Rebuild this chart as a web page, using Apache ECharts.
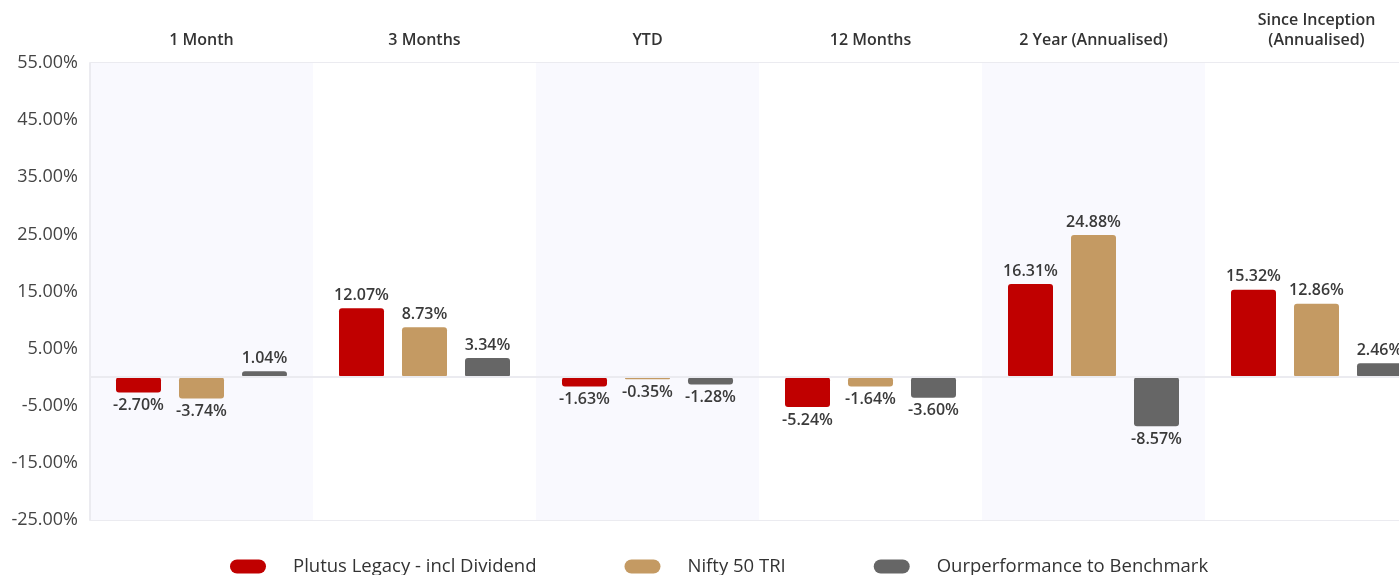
<!DOCTYPE html>
<html>
<head>
<meta charset="utf-8">
<script src="https://cdn.jsdelivr.net/npm/echarts@6/dist/echarts.min.js"></script>
<style>
    html, body { margin: 0; padding: 0; background: #fff; }
    #chart { width: 1399px; height: 575px; }
</style>
</head>
<body>
<div id="chart"></div>
<script>
// periods shown along the top
const periods = ['1 Month', '3 Months', 'YTD', '12 Months', '2 Year (Annualised)', 'Since Inception\n(Annualised)'];

// returns in %
const plutusLegacy = [-2.70, 12.07, -1.63, -5.24, 16.31, 15.32];
const nifty50Tri = [-3.74, 8.73, -0.35, -1.64, 24.88, 12.86];
const outperformance = [1.04, 3.34, -1.28, -3.60, -8.57, 2.46];

const seriesNames = ['Plutus Legacy - incl Dividend', 'Nifty 50 TRI', 'Ourperformance to Benchmark'];
const seriesColors = ['#c00000', '#c49a63', '#666666'];

// y axis -25% .. 55%, step 10
const yMin = -25;
const yMax = 55;
const yStep = 10;

const pillIcon = 'path://M7,0 H29 A7,7 0 0 1 29,14 H7 A7,7 0 0 1 7,0 Z';

// put labels above positive bars and below negative ones
const toItems = (arr) => arr.map(v => ({
    value: v,
    label: { position: v < 0 ? 'bottom' : 'top' }
}));

const makeSeries = (name, data, color, withZeroLine) => {
    let s = {
        name: name,
        type: 'bar',
        barWidth: 45,
        barGap: '40%',
        data: toItems(data),
        itemStyle: { color: color, borderRadius: 3 },
        label: {
            show: true,
            distance: 5,
            fontFamily: 'Open Sans',
            fontSize: 16,
            fontWeight: 600,
            color: '#3a3a3a',
            formatter: (p) => p.value.toFixed(2) + '%'
        }
    };
    if (withZeroLine) {
        s.markLine = {
            silent: true,
            symbol: 'none',
            label: { show: false },
            lineStyle: { color: '#ebebf0', width: 2, type: 'solid' },
            data: [{ yAxis: 0 }]
        };
    }
    return s;
};

const chart = echarts.init(document.getElementById('chart'));
chart.setOption({
    animation: false,
    textStyle: { fontFamily: 'Open Sans' },
    grid: { left: 90, width: 1338, top: 63, bottom: 55, outerBoundsMode: 'none' },
    legend: {
        left: 225,
        top: 552,
        itemWidth: 36,
        itemHeight: 14,
        itemGap: 88,
        icon: pillIcon,
        textStyle: {
            fontFamily: 'Open Sans',
            fontSize: 18.5,
            color: '#333',
            padding: [0, 0, 0, 22]
        },
        data: seriesNames
    },
    xAxis: {
        type: 'category',
        position: 'top',
        data: periods,
        axisLine: { show: false },
        axisTick: { show: false },
        axisLabel: {
            margin: 13,
            fontFamily: 'Open Sans',
            fontSize: 16,
            fontWeight: 600,
            color: '#333',
            lineHeight: 20
        },
        splitArea: {
            show: true,
            areaStyle: { color: ['#f9f9fe', '#ffffff'] }
        }
    },
    yAxis: {
        type: 'value',
        min: yMin,
        max: yMax,
        interval: yStep,
        axisLine: { show: true, lineStyle: { color: '#ebebf0', width: 2 } },
        axisTick: { show: false },
        splitLine: { lineStyle: { color: '#ebebf0', width: 2 } },
        axisLabel: {
            margin: 12,
            fontFamily: 'Open Sans',
            fontSize: 18,
            color: '#444',
            formatter: (v) => v.toFixed(2) + '%'
        }
    },
    series: [
        makeSeries(seriesNames[0], plutusLegacy, seriesColors[0], true),
        makeSeries(seriesNames[1], nifty50Tri, seriesColors[1], false),
        makeSeries(seriesNames[2], outperformance, seriesColors[2], false)
    ]
});
</script>
</body>
</html>
